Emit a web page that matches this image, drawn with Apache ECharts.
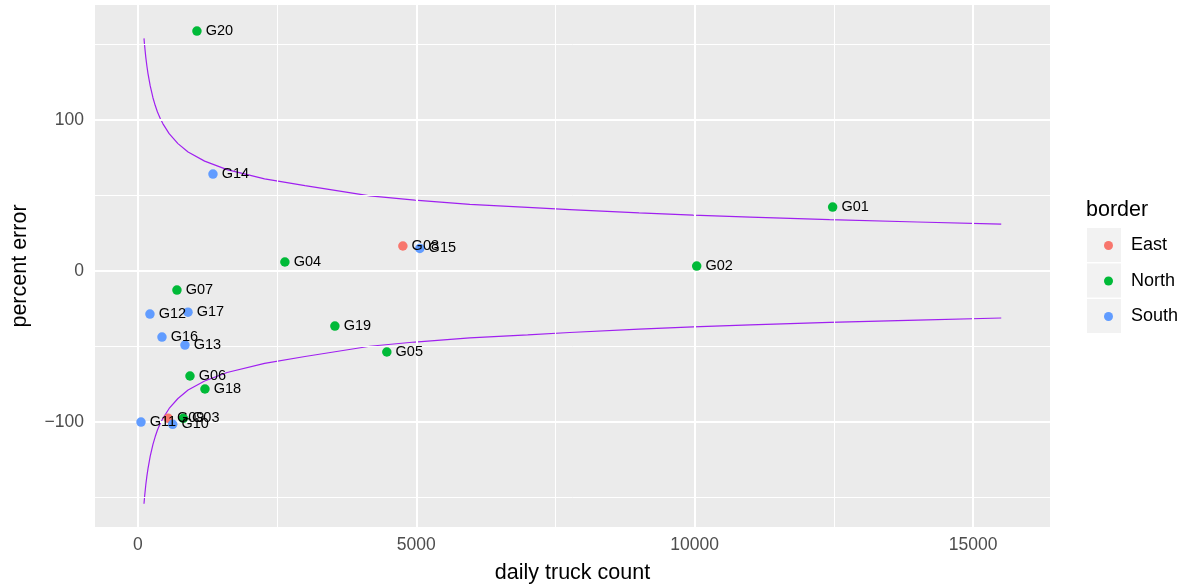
<!DOCTYPE html>
<html>
<head>
<meta charset="utf-8">
<script src="https://cdn.jsdelivr.net/npm/echarts@6/dist/echarts.min.js"></script>
<style>html,body{margin:0;padding:0;background:#fff}#c{width:1179px;height:586px}</style>
</head>
<body>
<div id="c"></div>
<script>
// ---- data ----
const ids     = ['G01','G02','G03','G04','G05','G06','G07','G08','G09','G10','G11','G12','G13','G14','G15','G16','G17','G18','G19','G20'];
const borders = ['North','North','North','North','North','North','North','East','East','South','South','South','South','South','South','South','South','North','North','North'];
const trucks  = [12478,10036,814,2639,4470,934,700,4758,544,623,54,215,844,1347,5063,431,898,1203,3537,1059];
const pctErr  = [42.4,3.3,-97.5,6.0,-53.6,-69.5,-12.6,16.6,-97.5,-101.5,-100,-28.5,-49.0,64.2,15.0,-43.7,-27.2,-78.1,-36.4,158.9];

const curveX     = [108,120,140,160,180,220,269,310,350,400,449,560,718,900,1197,1600,2274,3000,4165,4973,5960,7000,7756,9000,9970,11000,12424,14000,15506];
const curveUpper = [154.1,149,141.7,135.8,130.8,122.6,114.8,109.6,105.3,101,97.5,91,84.4,78.8,72.8,67.2,61.1,56.6,49.8,47.0,44.2,42.2,40.7,38.5,37.0,35.7,34.0,32.5,31.1];
const curveLower = [-154.1,-149,-141.7,-135.8,-130.8,-122.6,-114.8,-109.6,-105.3,-101,-97.5,-91,-84.4,-78.8,-72.8,-67.2,-61.1,-56.6,-49.8,-47.0,-44.2,-42.2,-40.7,-38.5,-37.0,-35.7,-34.0,-32.5,-31.1];

const groups   = ['East','North','South'];
const colors   = {East:'#F8766D', North:'#00BA38', South:'#619CFF'};
const xTicks   = [0,5000,10000,15000];
const xMinor   = [2500,7500,12500];
const yTicks   = [-100,0,100];
const yMinor   = [-150,-50,50,150];

const chart = echarts.init(document.getElementById('c'), null, {renderer:'canvas'});
const FONT = '"Liberation Sans", Arial, Helvetica, sans-serif';

const pointSeries = groups.map(g => ({
  name: g,
  type: 'scatter',
  symbol: 'circle',
  symbolSize: 9.5,
  itemStyle: {color: colors[g], opacity: 1},
  z: 5,
  data: ids.map((id,i) => borders[i] === g ? {value:[trucks[i], pctErr[i]], name:id} : null).filter(d => d),
  label: {
    show: true, position: 'right', distance: 4,
    formatter: p => p.name, color: '#000', fontSize: 14.5, fontFamily: FONT
  },
  labelLayout: {hideOverlap: false},
  emphasis: {disabled: true}
}));

const gridLines = [];
xTicks.forEach(v => gridLines.push({xAxis: v, lineStyle:{color:'#fff', width:2, type:'solid'}}));
xMinor.forEach(v => gridLines.push({xAxis: v, lineStyle:{color:'#fff', width:1, type:'solid'}}));
yTicks.forEach(v => gridLines.push({yAxis: v, lineStyle:{color:'#fff', width:2, type:'solid'}}));
yMinor.forEach(v => gridLines.push({yAxis: v, lineStyle:{color:'#fff', width:1, type:'solid'}}));

const option = {
  animation: false,
  backgroundColor: '#fff',
  textStyle: {fontFamily: FONT},
  grid: {left: 95, right: 129, top: 5, bottom: 59, show: true, backgroundColor: '#EBEBEB', borderWidth: 0,
    containLabel: false, outerBoundsMode: 'none'},
  xAxis: {
    type: 'value', min: -772, max: 16382,
    splitLine: {show: false}, axisLine: {show: false},
    axisTick: {show: true, customValues: xTicks, length: 5, lineStyle: {color: '#333', width: 1}},
    axisLabel: {customValues: xTicks, color: '#4D4D4D', fontSize: 17.5, fontFamily: FONT, margin: 9,
      formatter: v => String(v)},
    name: 'daily truck count', nameLocation: 'middle', nameGap: 35,
    nameTextStyle: {color: '#000', fontSize: 21.5, fontFamily: FONT}
  },
  yAxis: {
    type: 'value', min: -169.5, max: 176.2,
    splitLine: {show: false}, axisLine: {show: false},
    axisTick: {show: true, customValues: yTicks, length: 5, lineStyle: {color: '#333', width: 1}},
    axisLabel: {customValues: yTicks, color: '#4D4D4D', fontSize: 17.5, fontFamily: FONT, margin: 11,
      formatter: v => v < 0 ? '\u2212' + Math.abs(v) : String(v)},
    name: 'percent error', nameLocation: 'middle', nameGap: 64, nameRotate: 90,
    nameTextStyle: {color: '#000', fontSize: 21.5, fontFamily: FONT}
  },
  legend: {
    data: groups, orient: 'vertical', left: 1099, top: 230.5,
    itemWidth: 9, itemHeight: 9, itemGap: 15.5, icon: 'circle',
    textStyle: {color: '#000', fontSize: 18, lineHeight: 20, fontFamily: FONT, padding: [0,0,0,13]},
    selectedMode: false
  },
  graphic: [
    {type:'text', left: 1086, top: 199, style:{text:'border', fill:'#000', font:'21.5px ' + FONT}},
    {type:'rect', shape:{x:1087, y:228, width:34, height:34}, style:{fill:'#F2F2F2'}, z: -1},
    {type:'rect', shape:{x:1087, y:263.5, width:34, height:34}, style:{fill:'#F2F2F2'}, z: -1},
    {type:'rect', shape:{x:1087, y:299, width:34, height:34}, style:{fill:'#F2F2F2'}, z: -1}
  ],
  series: [
    {type:'scatter', data: [], z: 1, silent: true,
      markLine: {silent: true, symbol: ['none','none'], label: {show: false}, animation: false, data: gridLines}},
    {type:'line', data: curveX.map((x,i) => [x, curveUpper[i]]), showSymbol: false, symbol: 'none',
      lineStyle: {color: '#A020F0', width: 1.2}, z: 3, silent: true},
    {type:'line', data: curveX.map((x,i) => [x, curveLower[i]]), showSymbol: false, symbol: 'none',
      lineStyle: {color: '#A020F0', width: 1.2}, z: 3, silent: true}
  ].concat(pointSeries)
};
chart.setOption(option);
</script>
</body>
</html>
